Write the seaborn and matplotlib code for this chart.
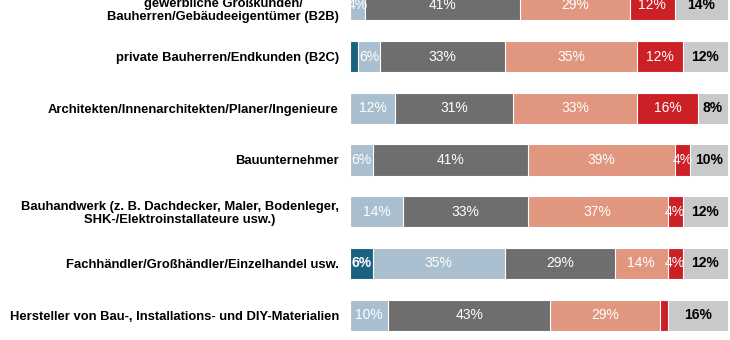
import matplotlib
matplotlib.use("Agg")
import matplotlib.pyplot as plt
from matplotlib.transforms import ScaledTranslation
import numpy as np
import pandas as pd
import seaborn as sns

sns.set_theme(style="white")
plt.rcParams["font.family"] = ["Liberation Sans", "DejaVu Sans"]

categories = [
    "gewerbliche Großkunden/\nBauherren/Gebäudeeigentümer (B2B)",
    "private Bauherren/Endkunden (B2C)",
    "Architekten/Innenarchitekten/Planer/Ingenieure",
    "Bauunternehmer",
    "Bauhandwerk (z. B. Dachdecker, Maler, Bodenleger,\nSHK-/Elektroinstallateure usw.)",
    "Fachhändler/Großhändler/Einzelhandel usw.",
    "Hersteller von Bau-, Installations- und DIY-Materialien",
]

# shares per segment (percent), left to right
seg1 = [0, 2, 0, 0, 0, 6, 0]
seg2 = [4, 6, 12, 6, 14, 35, 10]
seg3 = [41, 33, 31, 41, 33, 29, 43]
seg4 = [29, 35, 33, 39, 37, 14, 29]
seg5 = [12, 12, 16, 4, 4, 4, 2]
seg6 = [14, 12, 8, 10, 12, 12, 16]

segments = [seg1, seg2, seg3, seg4, seg5, seg6]
colors = ["#1b6282", "#a9bfcf", "#6e6e6e", "#e1967f", "#cc2027", "#c9c9c9"]
text_colors = ["white", "white", "white", "white", "white", "black"]
text_weights = ["bold", "normal", "normal", "normal", "normal", "bold"]

df = pd.DataFrame({"kategorie": categories})
for i, s in enumerate(segments):
    df[f"s{i}"] = s
cum = np.cumsum(np.array(segments), axis=0)

fig = plt.figure(figsize=(7.3, 3.4), dpi=100)
ax = fig.add_axes([350 / 730, 0, 378 / 730, 1])

# stacked bars: draw cumulative totals from the right-most segment down
for k in range(len(segments) - 1, -1, -1):
    sns.barplot(x=cum[k], y=df["kategorie"], color=colors[k], orient="h",
                width=0.6, edgecolor="white", linewidth=0.8, ax=ax,
                saturation=1)

for k, s in enumerate(segments):
    starts = cum[k] - np.array(s)
    for i, v in enumerate(s):
        if v >= 3:
            ax.text(starts[i] + v / 2, i, f"{v}%", ha="center", va="center",
                    color=text_colors[k], fontsize=10,
                    fontweight=text_weights[k])

ax.set_xlim(0, 100)
ax.set_ylim(6.48, -0.093)
ax.set_xlabel("")
ax.set_ylabel("")
ax.set_xticks([])
for sp in ax.spines.values():
    sp.set_visible(False)
ax.tick_params(axis="y", length=0, pad=8)
for i, lab in enumerate(ax.get_yticklabels()):
    lab.set_fontweight("bold")
    lab.set_fontsize(9.4)
    lab.set_color("black")
    lab.set_multialignment("center")
    lab.set_linespacing(1.1)
    if i == 0:
        lab.set_transform(lab.get_transform()
                          + ScaledTranslation(0, -3 / 72, fig.dpi_scale_trans))

fig.savefig("out.png", dpi=100)
